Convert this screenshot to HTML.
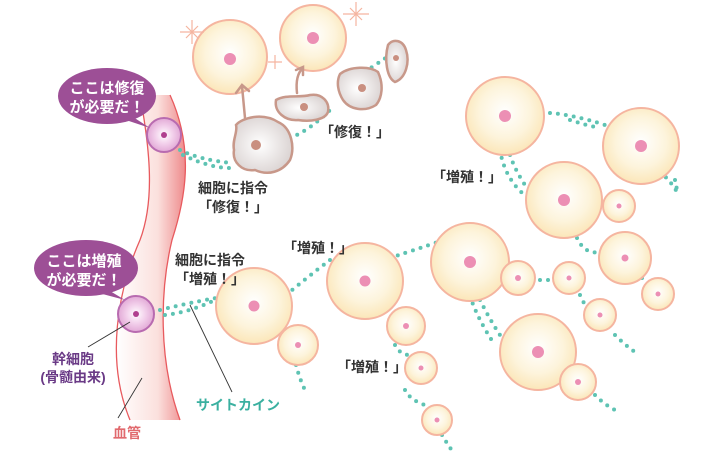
<!DOCTYPE html>
<html><head><meta charset="utf-8"><style>
body{margin:0;background:#fff}
svg text{font-family:"Liberation Sans","Noto Sans CJK JP",sans-serif;font-weight:bold}
</style></head><body>
<svg width="703" height="460" viewBox="0 0 703 460" xmlns="http://www.w3.org/2000/svg">
<defs>
<radialGradient id="c" cx="50%" cy="45%" r="55%"><stop offset="0" stop-color="#fff"/><stop offset="0.6" stop-color="#fdf4dc"/><stop offset="1" stop-color="#fbe6b8"/></radialGradient>
<radialGradient id="g" cx="45%" cy="50%" r="60%"><stop offset="0" stop-color="#fff"/><stop offset="1" stop-color="#d8d0cf"/></radialGradient>
<radialGradient id="s" cx="50%" cy="50%" r="50%"><stop offset="0" stop-color="#fff"/><stop offset="0.5" stop-color="#f3d2ec"/><stop offset="1" stop-color="#e2a9d6"/></radialGradient>
<linearGradient id="v" x1="0" x2="1"><stop offset="0" stop-color="#fff"/><stop offset="0.6" stop-color="#fbe0dd"/><stop offset="1" stop-color="#ee8a8c"/></linearGradient>
</defs>
<path d="M140,95 C150,150 155,200 140,240 C118,290 105,360 130,420 L180,420 C158,360 160,290 172,240 C185,200 195,150 170,95 Z" fill="url(#v)"/>
<path d="M140,95 C150,150 155,200 140,240 C118,290 105,360 130,420" fill="none" stroke="#e85a5e" stroke-width="1.3"/>
<path d="M170,95 C195,150 185,200 172,240 C160,290 158,360 180,420" fill="none" stroke="#e85a5e" stroke-width="1.3"/>
<g fill="none" stroke="#5ec3b3" stroke-width="4" stroke-linecap="round" stroke-dasharray="0 8">
<path d="M180,150 Q200,160 232,163"/><path d="M183,155 Q210,168 230,168"/>
<path d="M290,138 Q310,130 330,110"/><path d="M345,85 Q365,72 390,55"/>
<path d="M160,310 Q200,300 230,296"/><path d="M165,315 Q190,312 215,300"/>
<path d="M280,300 Q310,275 330,260"/><path d="M390,258 Q420,248 438,242"/>
<path d="M296,365 Q300,380 305,390"/><path d="M395,345 Q400,355 410,355"/>
<path d="M405,390 Q410,400 425,405"/><path d="M442,435 Q448,445 455,455"/>
<path d="M500,150 Q505,180 527,197"/><path d="M510,155 Q515,170 525,185"/>
<path d="M550,113 Q575,115 605,125"/><path d="M570,120 Q585,125 600,128"/>
<path d="M660,172 Q670,180 677,192"/><path d="M675,180 Q680,188 672,192"/>
<path d="M577,238 Q585,255 600,252"/><path d="M642,278 Q648,285 652,283"/>
<path d="M540,280 L552,280"/><path d="M580,295 Q585,305 586,308"/>
<path d="M470,296 Q478,320 495,345"/><path d="M480,300 Q490,320 500,335"/>
<path d="M615,335 Q625,345 635,352"/><path d="M595,395 Q605,405 615,410"/>
</g>
<g stroke="#f5b5a0" stroke-width="2" fill="url(#c)">
<circle cx="230" cy="57" r="37"/><circle cx="313" cy="38" r="33"/>
<circle cx="254" cy="306" r="38"/><circle cx="298" cy="345" r="20"/>
<circle cx="365" cy="281" r="38"/><circle cx="406" cy="326" r="19"/><circle cx="421" cy="368" r="16"/><circle cx="437" cy="420" r="15"/>
<circle cx="505" cy="116" r="39"/><circle cx="641" cy="146" r="38"/><circle cx="564" cy="200" r="38"/><circle cx="619" cy="206" r="16"/>
<circle cx="470" cy="262" r="39"/><circle cx="518" cy="278" r="17"/><circle cx="569" cy="278" r="16"/><circle cx="625" cy="258" r="26"/><circle cx="658" cy="294" r="16"/><circle cx="600" cy="315" r="16"/>
<circle cx="538" cy="352" r="38"/><circle cx="578" cy="382" r="18"/>
</g>
<g fill="#ec8fb4">
<circle cx="230" cy="59" r="6"/><circle cx="313" cy="38" r="6"/><circle cx="254" cy="306" r="5.5"/><circle cx="298" cy="345" r="3"/>
<circle cx="365" cy="281" r="5.5"/><circle cx="406" cy="326" r="3"/><circle cx="421" cy="368" r="2.5"/><circle cx="437" cy="420" r="2.5"/>
<circle cx="505" cy="116" r="6"/><circle cx="641" cy="146" r="6"/><circle cx="564" cy="200" r="6"/><circle cx="619" cy="206" r="2.5"/>
<circle cx="470" cy="262" r="6"/><circle cx="518" cy="278" r="3"/><circle cx="569" cy="278" r="2.5"/><circle cx="625" cy="258" r="3.5"/><circle cx="658" cy="294" r="2.5"/><circle cx="600" cy="315" r="2.5"/>
<circle cx="538" cy="352" r="6"/><circle cx="578" cy="382" r="3"/>
</g>
<g stroke="#f5b5a0" stroke-width="1.2">
<path d="M180,32 L204,32 M192,20 L192,44 M186,26 L198,38 M198,26 L186,38"/>
<path d="M343,14 L369,14 M356,2 L356,26 M350,8 L362,20 M362,8 L350,20"/>
<path d="M268,62 L282,62 M275,55 L275,69"/>
</g>
<g stroke="#c8988a" stroke-width="2.5" fill="url(#g)">
<path d="M236,125 C242,118 262,112 278,122 C292,128 295,148 290,160 C282,172 268,176 255,170 C242,172 232,162 234,150 C232,140 238,132 236,125Z"/>
<path d="M276,100 C286,94 300,98 310,95 C322,93 330,102 328,112 C325,120 310,122 298,120 C285,121 274,112 276,100Z"/>
<path d="M340,74 C350,66 370,66 378,72 C384,85 382,98 376,105 C365,112 350,110 343,100 C338,92 336,82 340,74Z"/>
<path d="M388,45 C393,38 403,40 406,50 C410,62 406,78 395,82 C387,78 384,60 388,45Z"/>
</g>
<g fill="#c98f80"><circle cx="256" cy="145" r="5"/><circle cx="304" cy="107" r="4"/><circle cx="362" cy="88" r="4"/><circle cx="396" cy="58" r="3"/></g>
<g stroke="#c8988a" stroke-width="2.5" fill="none" stroke-linecap="round">
<path d="M245,118 L242,86 M236,93 L242,85 L249,91"/>
<path d="M297,93 Q295,75 303,68 M296,70 L303,67 L303,75"/>
</g>
<circle cx="164" cy="135" r="17" fill="url(#s)" stroke="#b86bb0" stroke-width="2"/><circle cx="164" cy="135" r="3" fill="#b0408f"/>
<circle cx="136" cy="314" r="18" fill="url(#s)" stroke="#b86bb0" stroke-width="2"/><circle cx="136" cy="314" r="3" fill="#b0408f"/>
<ellipse cx="107" cy="96" rx="49" ry="28" fill="#9d4f96"/><path d="M130,115 L150,128 L120,118Z" fill="#9d4f96"/>
<ellipse cx="86" cy="268" rx="52" ry="28" fill="#9d4f96"/><path d="M105,288 L125,300 L95,292Z" fill="#9d4f96"/>
<g fill="#fff" font-size="15" text-anchor="middle">
<text x="107" y="93">ここは修復</text><text x="107" y="112">が必要だ！</text>
<text x="84" y="266">ここは増殖</text><text x="84" y="285">が必要だ！</text>
</g>
<g stroke="#333" stroke-width="0.9">
<line x1="130" y1="322" x2="88" y2="347"/><line x1="142" y1="378" x2="118" y2="418"/><line x1="190" y1="305" x2="232" y2="392"/>
</g>
<g font-size="14" fill="#333" text-anchor="middle">
<text x="233" y="193">細胞に指令</text><text x="233" y="212">「修復！」</text>
<text x="210" y="265">細胞に指令</text><text x="210" y="284">「増殖！」</text>
<text x="355" y="137">「修復！」</text>
<text x="318" y="253">「増殖！」</text>
<text x="467" y="182">「増殖！」</text>
<text x="372" y="372">「増殖！」</text>
</g>
<g font-size="14" fill="#6a3a86" text-anchor="middle"><text x="73" y="364">幹細胞</text><text x="73" y="382">(骨髄由来)</text></g>
<text x="127" y="438" font-size="14" fill="#e16a6e" text-anchor="middle">血管</text>
<text x="238" y="410" font-size="14" fill="#3ab0a0" text-anchor="middle">サイトカイン</text>
</svg>
</body></html>
